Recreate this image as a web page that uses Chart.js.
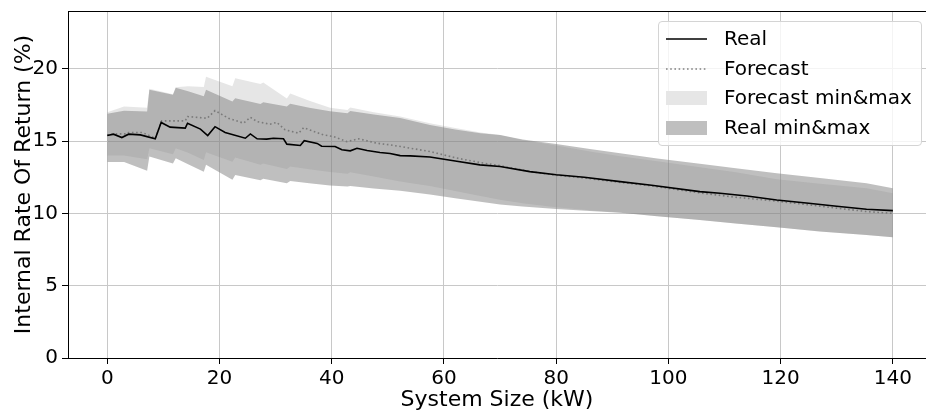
<!DOCTYPE html>
<html>
<head>
<meta charset="utf-8">
<script src="https://cdn.jsdelivr.net/npm/chart.js@4.4.0/dist/chart.umd.min.js"></script>
<style>
html,body{margin:0;padding:0;background:#fff;overflow:hidden}
#wrap{position:relative;width:926px;height:413px}
#legend{position:absolute;left:658px;top:21px;width:262px;height:123px;border:1px solid #d4d4d4;border-radius:4px;background:rgba(255,255,255,0.8);font-family:'DejaVu Sans';font-size:20px;color:#000}
.item{position:absolute;left:0;width:100%;height:28px}
.handle{position:absolute;left:7px;top:50%}
.txt{position:absolute;left:65px;top:50%;transform:translateY(-56%);white-space:nowrap;line-height:1}
</style>
</head>
<body>
<div id="wrap">
<canvas id="c" width="926" height="413"></canvas>
<div id="legend"></div>
</div>
<script>
// ---- data ----
const xTicks = [0, 20, 40, 60, 80, 100, 120, 140];
const yTicks = [0, 5, 10, 15, 20];

const realX = [0, 1.1, 2.6, 3.8, 5.9, 8.55, 9.6, 11.2, 13.9, 14.3, 16.6, 17.9, 19.2, 21, 24.6, 25.5, 26.7, 28.4, 29.6, 31.4, 32, 34.4, 35.1, 37.4, 38.2, 40.6, 41.8, 43.3, 44.5, 46.3, 48.6, 50.4, 52.2, 54, 57.5, 62, 66.4, 70, 75.3, 80, 85, 91.4, 97, 105.6, 109.2, 114, 119.3, 125, 130, 135.3, 140];
const realY = [15.39, 15.48, 15.25, 15.48, 15.43, 15.16, 16.29, 15.97, 15.9, 16.24, 15.83, 15.39, 16.0, 15.6, 15.2, 15.5, 15.16, 15.14, 15.2, 15.16, 14.79, 14.7, 15.03, 14.84, 14.65, 14.63, 14.4, 14.33, 14.51, 14.35, 14.21, 14.14, 14.0, 13.98, 13.9, 13.62, 13.36, 13.25, 12.89, 12.67, 12.5, 12.2, 11.95, 11.51, 11.4, 11.2, 10.93, 10.7, 10.5, 10.29, 10.19];

const forecastX = [0, 1.5, 3.5, 3.8, 6.2, 8.55, 9.7, 13.9, 14.3, 17.8, 19.2, 21.6, 24.3, 25.5, 26.7, 29, 30.2, 31.7, 34.1, 35, 38.5, 40.3, 42.7, 44.8, 48, 50.4, 52.2, 57.5, 62, 66.4, 70, 75.3, 80, 85, 91.4, 97, 105.6, 112, 119.3, 127, 135.3, 140];
const forecastY = [15.43, 15.5, 15.5, 15.6, 15.6, 15.2, 16.4, 16.4, 16.7, 16.58, 17.11, 16.58, 16.24, 16.65, 16.35, 16.17, 16.3, 15.78, 15.55, 15.93, 15.43, 15.32, 14.97, 15.16, 14.86, 14.74, 14.63, 14.28, 13.85, 13.52, 13.3, 12.9, 12.64, 12.45, 12.15, 11.9, 11.42, 11.12, 10.85, 10.5, 10.13, 10.0];

const bandX = [0, 3.0, 7.1, 7.5, 11.7, 12.2, 14.4, 17.2, 17.6, 22.3, 22.8, 27.3, 27.8, 32.0, 32.6, 36, 39.7, 42.8, 43.3, 47.5, 52.2, 57.5, 62, 66.5, 70, 74, 80, 86, 91.4, 98, 105.6, 112, 119.3, 127, 135.3, 140];
const forecastMax = [17.0, 17.4, 17.3, 18.62, 18.25, 18.73, 18.8, 18.75, 19.46, 18.8, 19.35, 18.95, 19.05, 17.95, 18.3, 17.8, 17.3, 17.16, 17.32, 17.0, 16.7, 16.24, 15.9, 15.6, 15.43, 15.07, 14.7, 14.28, 13.95, 13.6, 13.2, 12.85, 12.37, 12.05, 11.74, 11.4];
const forecastMin = [14.0, 14.0, 13.75, 14.5, 14.1, 14.5, 14.2, 13.7, 14.23, 13.58, 13.86, 13.36, 13.45, 13.08, 13.24, 13.05, 12.87, 12.75, 12.85, 12.55, 12.2, 11.9, 11.55, 11.2, 10.95, 10.7, 10.42, 10.22, 10.06, 9.8, 9.55, 9.3, 9.04, 8.75, 8.51, 8.35];
const realMax = [16.9, 17.1, 17.05, 18.55, 18.2, 18.7, 18.45, 18.1, 18.55, 17.74, 17.97, 17.56, 17.69, 17.39, 17.58, 17.3, 17.07, 16.93, 17.09, 16.85, 16.6, 16.12, 15.8, 15.55, 15.43, 15.12, 14.8, 14.45, 14.17, 13.8, 13.43, 13.12, 12.78, 12.45, 12.09, 11.74];
const realMin = [13.55, 13.55, 12.95, 13.93, 13.45, 13.82, 13.4, 12.89, 13.36, 12.32, 12.66, 12.3, 12.4, 12.09, 12.25, 12.08, 11.93, 11.86, 11.9, 11.72, 11.56, 11.3, 11.05, 10.8, 10.62, 10.47, 10.3, 10.16, 10.04, 9.8, 9.55, 9.3, 9.04, 8.75, 8.51, 8.35];

const legendItems = [
  {text: 'Real', kind: 'line', color: '#000000'},
  {text: 'Forecast', kind: 'dotted', color: '#808080'},
  {text: 'Forecast min&max', kind: 'patch', color: '#e6e6e6'},
  {text: 'Real min&max', kind: 'patch', color: '#bfbfbf'}
];

// ---- build ----
const FONT = 'DejaVu Sans';
Chart.defaults.font.family = FONT;
Chart.defaults.color = '#000';

const pts = (xs, ys) => xs.map((x, i) => ({x: x, y: ys[i]}));
const clear = 'rgba(0,0,0,0)';

const topSpine = {
  id: 'topSpine',
  afterDraw(chart) {
    const a = chart.chartArea, c = chart.ctx;
    c.save();
    c.strokeStyle = '#000';
    c.lineWidth = 1;
    c.beginPath();
    c.moveTo(a.left, Math.round(a.top) + 0.5);
    c.lineTo(a.right, Math.round(a.top) + 0.5);
    c.stroke();
    c.restore();
  }
};

new Chart(document.getElementById('c'), {
  type: 'line',
  data: {
    datasets: [
      {label: 'Real', data: pts(realX, realY), borderColor: '#000', borderWidth: 1.6, pointRadius: 0, fill: false, tension: 0},
      {label: 'Forecast', data: pts(forecastX, forecastY), borderColor: '#7a7a7a', borderWidth: 1.6, borderDash: [1.6, 2.6], borderCapStyle: 'butt', pointRadius: 0, fill: false, tension: 0},
      {label: 'Forecast max', data: pts(bandX, forecastMax), borderColor: clear, borderWidth: 0, pointRadius: 0, backgroundColor: 'rgba(128,128,128,0.2)', fill: '+1', tension: 0},
      {label: 'Forecast min', data: pts(bandX, forecastMin), borderColor: clear, borderWidth: 0, pointRadius: 0, fill: false, tension: 0},
      {label: 'Real max', data: pts(bandX, realMax), borderColor: clear, borderWidth: 0, pointRadius: 0, backgroundColor: 'rgba(128,128,128,0.5)', fill: '+1', tension: 0},
      {label: 'Real min', data: pts(bandX, realMin), borderColor: clear, borderWidth: 0, pointRadius: 0, fill: false, tension: 0}
    ]
  },
  options: {
    responsive: false,
    animation: false,
    devicePixelRatio: 1,
    layout: {padding: {top: 11, right: 0, left: 0, bottom: 0}},
    plugins: {legend: {display: false}, tooltip: {enabled: false}},
    scales: {
      x: {
        type: 'linear', min: -7, max: 145.9,
        afterBuildTicks: s => { s.ticks = xTicks.map(v => ({value: v})); },
        afterFit: s => { s.height = 55; s.paddingLeft = 0; s.paddingRight = 0; },
        ticks: {font: {family: FONT, size: 20}, color: '#000', padding: 3, maxRotation: 0, autoSkip: false},
        grid: {color: '#c8c8c8', lineWidth: 1, tickColor: '#000', tickLength: 6},
        border: {color: '#000', width: 1},
        title: {display: true, text: 'System Size (kW)', font: {family: FONT, size: 22}, color: '#000', padding: {top: 0, bottom: 0}}
      },
      y: {
        type: 'linear', min: 0, max: 24,
        afterBuildTicks: s => { s.ticks = yTicks.map(v => ({value: v})); },
        afterFit: s => { s.width = 68; s.paddingTop = 0; s.paddingBottom = 0; },
        ticks: {font: {family: FONT, size: 20}, color: '#000', padding: 4, autoSkip: false},
        grid: {color: '#c8c8c8', lineWidth: 1, tickColor: '#000', tickLength: 6},
        border: {color: '#000', width: 1},
        title: {display: true, text: 'Internal Rate Of Return (%)', font: {family: FONT, size: 22}, color: '#000', padding: {top: 11, bottom: 0}}
      }
    }
  },
  plugins: [topSpine]
});

// ---- legend ----
const lg = document.getElementById('legend');
legendItems.forEach((it, i) => {
  const row = document.createElement('div');
  row.className = 'item';
  row.style.top = (17 + 29.7 * i - 14) + 'px';
  const h = document.createElement('div');
  h.className = 'handle';
  if (it.kind === 'patch') {
    h.style.width = '41px'; h.style.height = '14px'; h.style.marginTop = '-7px';
    h.style.background = it.color;
  } else {
    h.innerHTML = '<svg width="41" height="4" style="display:block"><line x1="0" y1="2" x2="41" y2="2" stroke="' + it.color +
      '" stroke-width="1.6"' + (it.kind === 'dotted' ? ' stroke-dasharray="1.6 2.6"' : '') + '/></svg>';
    h.style.marginTop = '-2px';
  }
  const t = document.createElement('div');
  t.className = 'txt';
  t.textContent = it.text;
  row.appendChild(h); row.appendChild(t);
  lg.appendChild(row);
});
</script>
</body>
</html>
